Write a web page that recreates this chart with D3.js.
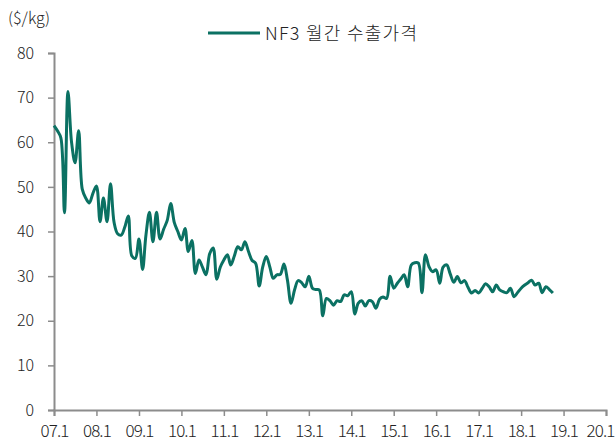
<!DOCTYPE html>
<html>
<head>
<meta charset="utf-8">
<script src="https://cdn.jsdelivr.net/npm/d3@7"></script>
<style>
  body { margin: 0; background: #fff; }
  text { font-family: "Noto Sans CJK KR", "Noto Sans", sans-serif; font-weight: 300; fill: #222; }
</style>
</head>
<body>
<div id="chart"></div>
<script>
// NF3 monthly export price, 2007.01 ~ 2018.10 ($/kg)
var startYear = 2007;
var prices = [
  63.7, 62.5, 61.0, 44.2, 71.4, 60.0, 55.4, 62.6, 49.5, 47.5, 46.4, 48.5,
  50.2, 42.2, 47.5, 42.2, 50.7, 42.0, 39.5, 39.2, 41.0, 43.5, 34.5, 34.0,
  38.3, 31.5, 39.0, 44.3, 37.7, 44.3, 38.3, 40.5, 42.5, 46.3, 42.0, 40.0,
  38.1, 40.7, 35.5, 38.0, 30.6, 33.6, 32.0, 30.3, 35.0, 36.3, 29.3, 32.0,
  33.6, 34.8, 32.5, 34.5, 36.6, 35.9, 37.7, 35.5, 33.5, 32.9, 27.8, 32.0,
  34.4, 32.0, 29.5, 30.3, 30.4, 32.7, 29.1, 23.9, 27.0, 29.0, 28.5, 27.6,
  30.0, 27.3, 27.0, 26.9, 21.1, 25.0, 24.5, 23.5, 24.5, 24.3, 25.8, 25.6,
  26.5, 21.5, 23.9, 24.5, 23.3, 24.5, 24.3, 22.8, 24.8, 25.3, 25.0, 30.0,
  27.3, 28.4, 29.3, 30.3, 27.6, 32.5, 33.0, 32.9, 26.3, 34.8, 32.1, 31.0,
  31.4, 28.4, 32.0, 32.5, 30.5, 28.6, 29.9, 28.5, 29.0, 27.5, 26.2, 26.8,
  26.2, 27.3, 28.3, 27.6, 26.5, 28.0, 26.9, 26.5, 26.3, 27.3, 25.4, 26.3,
  27.3, 28.0, 28.5, 29.1, 28.0, 28.4, 26.3, 27.6, 27.0, 26.2
];
var yTicks = [0, 10, 20, 30, 40, 50, 60, 70, 80];
var xTickYears = d3.range(2007, 2021);
var seriesName = "NF3 월간 수출가격";
var unitLabel = "($/kg)";

var width = 615, height = 441;
var margin = {left: 54, right: 9, top: 53, bottom: 31};
var color = "#0b7163";

var svg = d3.select("#chart").append("svg")
    .attr("width", width).attr("height", height);

var data = prices.map(function(v, i){
    return {date: new Date(startYear, i, 1), value: v};
});

var x = d3.scaleTime()
    .domain([new Date(2007, 0, 1), new Date(2020, 0, 1)])
    .range([margin.left, width - margin.right]);
var y = d3.scaleLinear()
    .domain([0, 80])
    .range([height - margin.bottom, margin.top]);

// y axis
var yAxis = svg.append("g")
    .attr("transform", "translate(" + margin.left + ",0)")
    .call(d3.axisLeft(y).tickValues(yTicks).tickSize(6).tickPadding(14));
yAxis.select(".domain").attr("stroke", "#8c8c8c").attr("stroke-width", 2);
yAxis.selectAll(".tick line").attr("stroke", "#8c8c8c").attr("stroke-width", 1.5);
yAxis.selectAll("text").attr("font-size", 16).attr("fill", "#222");

// x axis
var xAxis = svg.append("g")
    .attr("transform", "translate(0," + y(0) + ")")
    .call(d3.axisBottom(x)
        .tickValues(xTickYears.map(function(yr){ return new Date(yr, 0, 1); }))
        .tickFormat(function(d){ return d3.timeFormat("%y")(d) + ".1"; })
        .tickSize(6).tickPadding(9));
xAxis.select(".domain").attr("stroke", "#8c8c8c").attr("stroke-width", 2);
xAxis.selectAll(".tick line").attr("stroke", "#8c8c8c").attr("stroke-width", 1.5);
xAxis.selectAll("text").attr("font-size", 17).attr("fill", "#222").attr("letter-spacing", -0.9);
// last label sits against the right edge
xAxis.selectAll(".tick:last-of-type text").attr("text-anchor", "end").attr("dx", 8);

// line
var line = d3.line()
    .x(function(d){ return x(d.date); })
    .y(function(d){ return y(d.value); })
    .curve(d3.curveCatmullRom.alpha(0.5));

svg.append("path")
    .datum(data)
    .attr("d", line)
    .attr("fill", "none")
    .attr("stroke", color)
    .attr("stroke-width", 3)
    .attr("stroke-linejoin", "round");

// unit label
svg.append("text")
    .attr("x", 8).attr("y", 24)
    .attr("font-size", 16)
    .text(unitLabel);

// legend
var legend = svg.append("g").attr("transform", "translate(208,33)");
legend.append("line")
    .attr("x1", 0).attr("x2", 52).attr("y1", 0).attr("y2", 0)
    .attr("stroke", color).attr("stroke-width", 3);
legend.append("text")
    .attr("x", 57).attr("y", 6.5)
    .attr("font-size", 18)
    .attr("textLength", 152)
    .attr("lengthAdjust", "spacing")
    .text(seriesName);
</script>
</body>
</html>
